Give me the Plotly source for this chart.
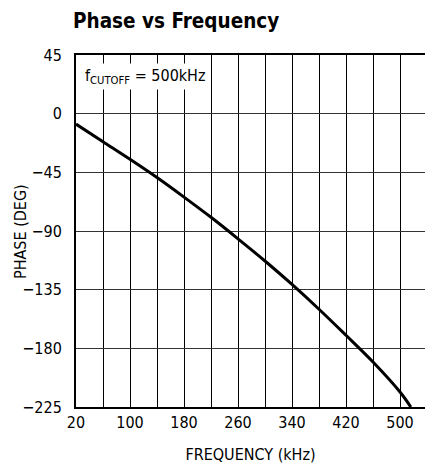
import plotly.graph_objects as go

# Data
freq_khz = [20, 60, 100, 140, 180, 220, 260, 300, 340, 380, 420, 460, 500, 516]
phase_deg = [-8, -21.5, -35, -49, -64, -79.5, -96, -113, -131, -150, -170, -190.5, -213.5, -225]

x_tick_vals = [20, 100, 180, 260, 340, 420, 500]
x_minor_vals = [60, 140, 220, 300, 380, 460, 540]
y_tick_vals = [45, 0, -45, -90, -135, -180, -225]

FONT = "DejaVu Sans Condensed, Liberation Sans Narrow, Arial Narrow, DejaVu Sans, sans-serif"

fig = go.Figure()
fig.add_trace(go.Scatter(
    x=freq_khz, y=phase_deg, mode="lines",
    line=dict(color="black", width=3, shape="spline", smoothing=1.0),
    hoverinfo="skip", showlegend=False,
))

fig.update_layout(
    width=425, height=464,
    margin=dict(l=76, r=0, t=55, b=57),
    paper_bgcolor="white", plot_bgcolor="white",
    font=dict(family=FONT, size=16, color="black"),
    title=dict(
        text="<b>Phase vs Frequency</b>",
        font=dict(family=FONT, size=20.5, color="black"),
        x=73 / 425, xanchor="left", xref="container",
        y=1 - 21 / 464, yanchor="middle", yref="container",
    ),
    xaxis=dict(
        range=[20, 537],
        tickvals=x_tick_vals,
        ticks="", showgrid=True, gridcolor="black", gridwidth=1,
        minor=dict(tickvals=x_minor_vals, showgrid=True, gridcolor="black", gridwidth=1, ticks=""),
        showline=True, linecolor="black", linewidth=2, mirror=True,
        zeroline=False, automargin=False,
        tickfont=dict(family=FONT, size=16),
        title=dict(text="FREQUENCY (kHz)", font=dict(family=FONT, size=16), standoff=19),
    ),
    yaxis=dict(
        range=[-225, 45],
        tickvals=y_tick_vals,
        ticks="", showgrid=True, gridcolor="#333333", gridwidth=1,
        showline=True, linecolor="black", linewidth=2, mirror=False,
        zeroline=False, automargin=False,
        tickfont=dict(family=FONT, size=16),
        ticklabelstandoff=9,
    ),
    annotations=[
        dict(
            text="f<sub>CUTOFF</sub> = 500kHz",
            xref="paper", yref="paper",
            x=(82 - 76) / 349, y=(407 - 76) / 352,
            xanchor="left", yanchor="middle",
            showarrow=False,
            font=dict(family=FONT, size=16, color="black"),
            bgcolor="white", borderpad=2,
        ),
        dict(
            text="PHASE (DEG)",
            xref="paper", yref="paper",
            x=(20 - 76) / 349, y=0.5,
            xanchor="center", yanchor="middle",
            textangle=-90, showarrow=False,
            font=dict(family=FONT, size=16, color="black"),
        ),
    ],
)

fig.write_html(
    "out.html",
    config={"displayModeBar": False},
    post_script="document.body.style.margin='0';document.body.style.overflow='hidden';",
)
